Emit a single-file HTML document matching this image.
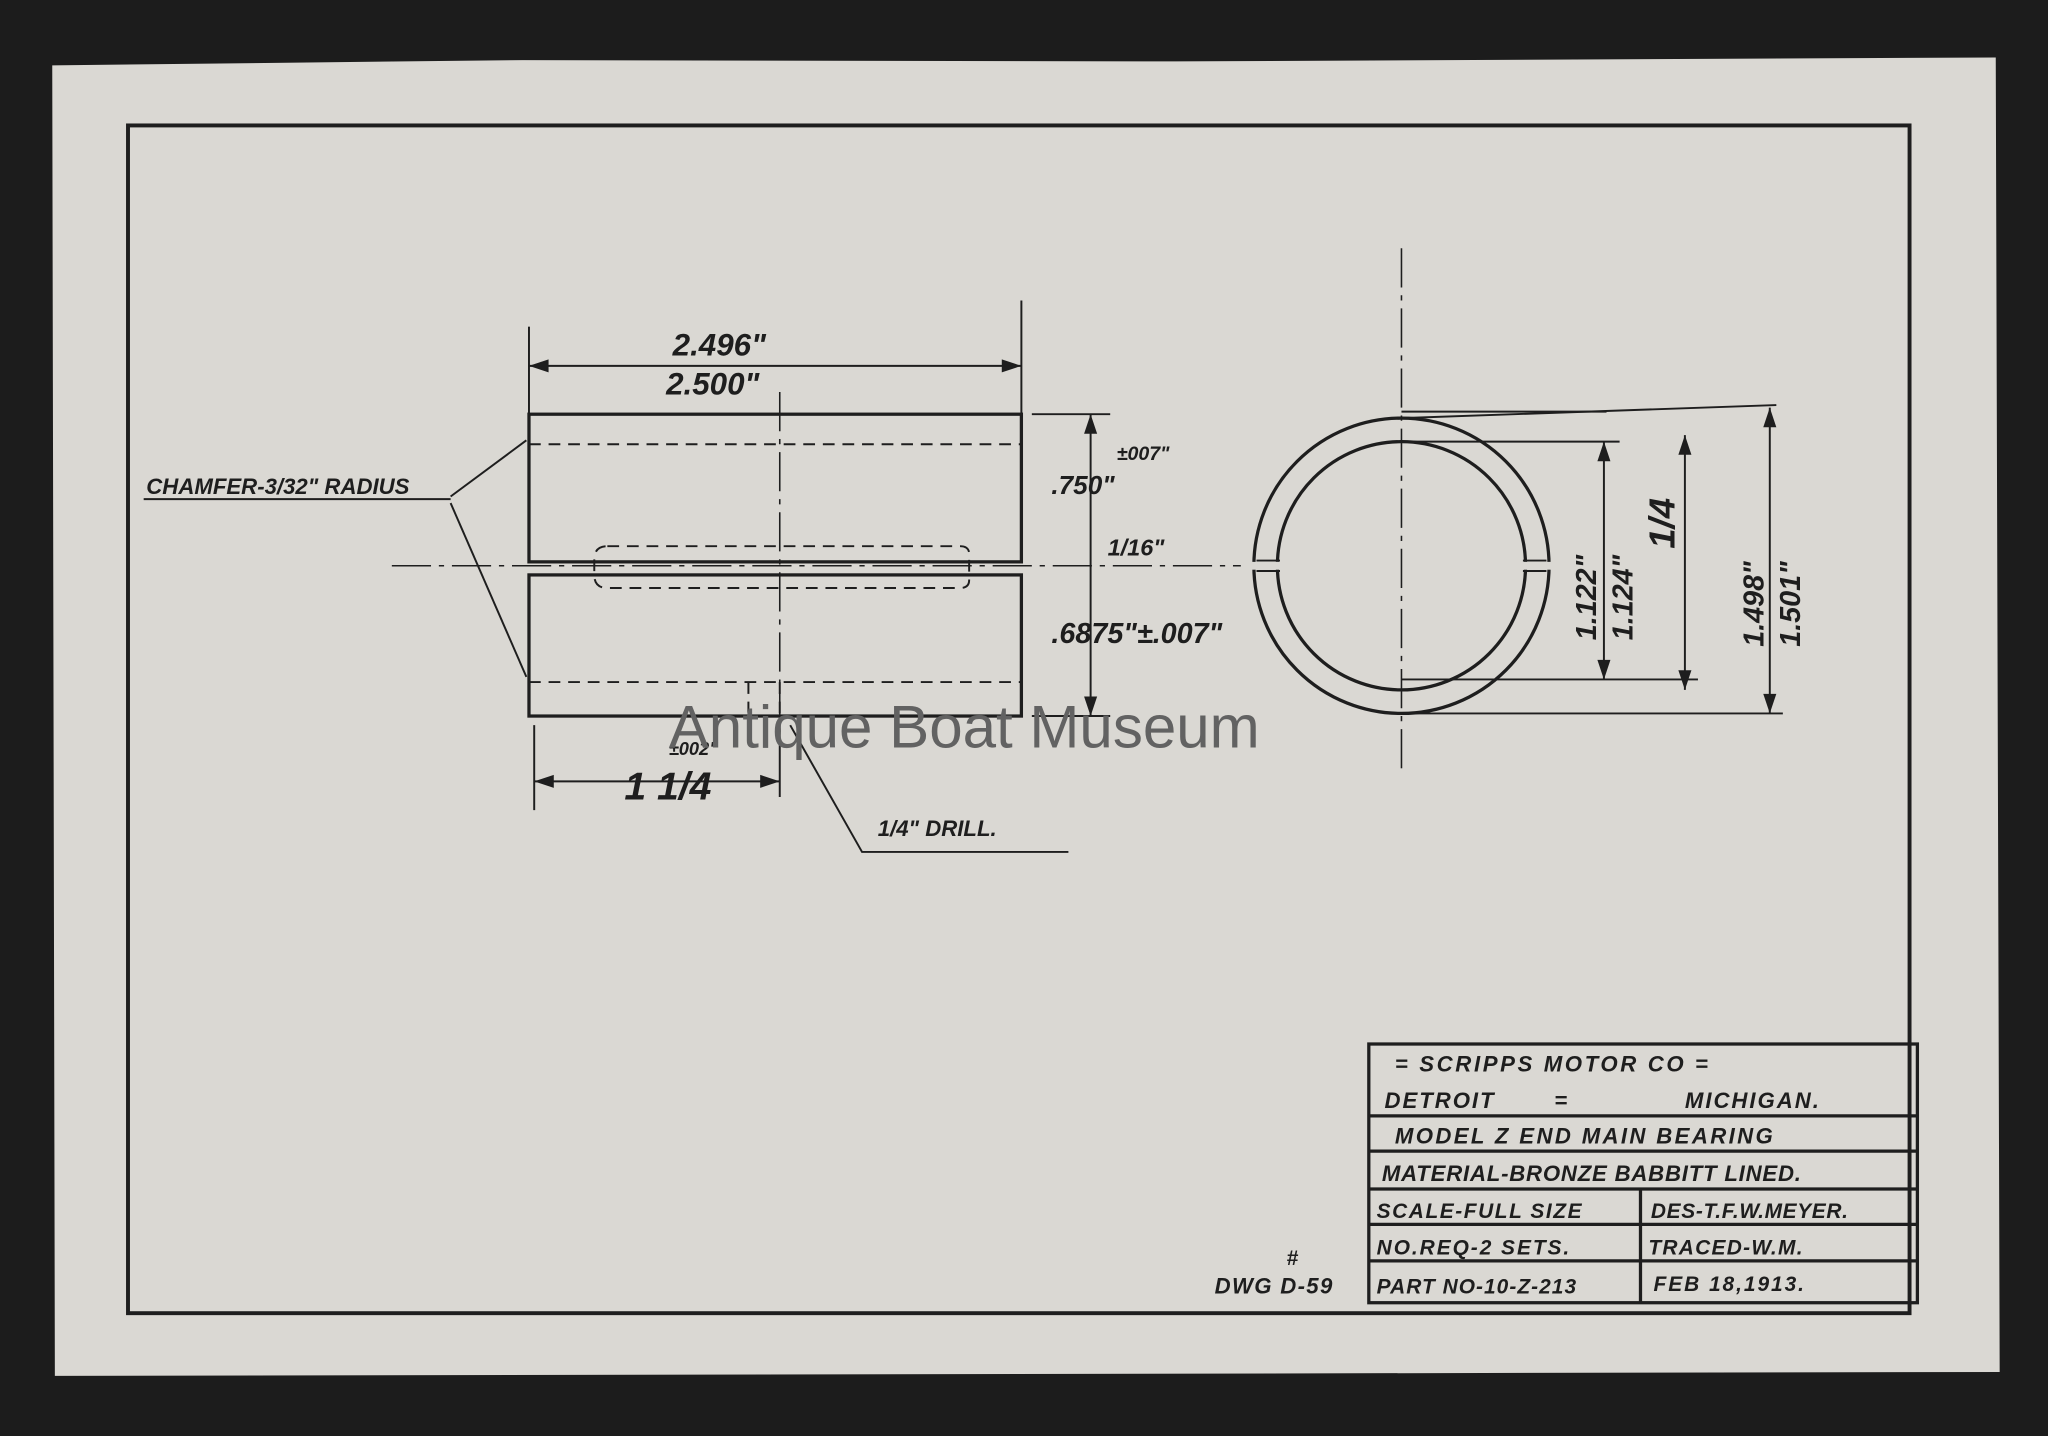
<!DOCTYPE html>
<html><head><meta charset="utf-8"><style>
html,body{margin:0;padding:0;background:#1c1c1c;}
svg{display:block;}
text{font-family:"Liberation Sans",sans-serif;font-style:italic;font-weight:bold;fill:#1e1e1e;}
</style></head><body>
<svg width="2048" height="1436" viewBox="0 0 1568 1099" preserveAspectRatio="none" xmlns="http://www.w3.org/2000/svg">
<rect x="0" y="0" width="1568" height="1099" fill="#1c1c1c"/>
<polygon points="40,50 400,46 900,47 1528,44 1531,1050 42,1053" fill="#dad8d3"/>
<g stroke="#1e1e1e" fill="none">
<rect x="98" y="96" width="1364" height="909" stroke-width="3"/>
<rect x="405" y="317" width="377" height="113" stroke-width="2.5"/>
<rect x="405" y="440" width="377" height="108" stroke-width="2.5"/>
<g stroke-dasharray="9,6" stroke-width="1.5">
<line x1="405" y1="340" x2="782" y2="340"/>
<line x1="405" y1="522" x2="782" y2="522"/>
<path d="M465,418 L735,418 Q742,418 742,424 L742,444 Q742,450 735,450 L465,450 Q455,450 455,440 L455,428 Q455,418 465,418"/>
<line x1="573" y1="522" x2="573" y2="548"/>
<line x1="597" y1="522" x2="597" y2="548"/>
</g>
<g stroke-dasharray="30,6,4,6" stroke-width="1.2">
<line x1="597" y1="300" x2="597" y2="565"/>
<line x1="300" y1="433" x2="950" y2="433"/>
<line x1="1073" y1="190" x2="1073" y2="590"/>
</g>
<g stroke-width="1.5">
<line x1="405" y1="250" x2="405" y2="317"/><line x1="782" y1="230" x2="782" y2="317"/>
<line x1="405" y1="280" x2="782" y2="280"/>
<line x1="790" y1="317" x2="850" y2="317"/><line x1="790" y1="548" x2="850" y2="548"/>
<line x1="835" y1="317" x2="835" y2="548"/>
<line x1="409" y1="555" x2="409" y2="620"/><line x1="597" y1="555" x2="597" y2="610"/>
<line x1="409" y1="598" x2="597" y2="598"/>
<line x1="345" y1="380" x2="403" y2="337"/><line x1="345" y1="385" x2="403" y2="518"/>
<polyline points="605,555 660,652 818,652"/>
<line x1="110" y1="382" x2="345" y2="382"/>
</g>
<circle cx="1073" cy="433" r="113" stroke-width="2.5"/>
<circle cx="1073" cy="433" r="95" stroke-width="2.5"/>
<g stroke-width="1.5">
<line x1="1073" y1="315" x2="1230" y2="315"/><line x1="1073" y1="320" x2="1360" y2="310"/>
<line x1="1073" y1="338" x2="1240" y2="338"/>
<line x1="1073" y1="520" x2="1300" y2="520"/><line x1="1073" y1="546" x2="1365" y2="546"/>
<line x1="1228" y1="338" x2="1228" y2="520"/>
<line x1="1290" y1="333" x2="1290" y2="528"/>
<line x1="1355" y1="312" x2="1355" y2="546"/>
</g>
</g>
<g fill="#dad8d3">
<rect x="956" y="430" width="26" height="6"/>
<rect x="1164" y="430" width="26" height="6"/>
</g>
<g stroke="#1e1e1e" stroke-width="1.5">
<line x1="962" y1="429" x2="980" y2="429"/><line x1="962" y1="437" x2="980" y2="437"/>
<line x1="1166" y1="429" x2="1184" y2="429"/><line x1="1166" y1="437" x2="1184" y2="437"/>
</g>
<g stroke="#1e1e1e" fill="none" stroke-width="2.5">
<rect x="1048" y="799" width="420" height="198"/>
<line x1="1048" y1="854" x2="1468" y2="854"/>
<line x1="1048" y1="881" x2="1468" y2="881"/>
<line x1="1048" y1="910" x2="1468" y2="910"/>
<line x1="1048" y1="937" x2="1468" y2="937"/>
<line x1="1048" y1="965" x2="1468" y2="965"/>
<line x1="1256" y1="910" x2="1256" y2="997"/>
</g>
<g fill="#1e1e1e">
<polygon points="405,280 420,275 420,285"/><polygon points="782,280 767,275 767,285"/>
<polygon points="409,598 424,593 424,603"/><polygon points="597,598 582,593 582,603"/>
<polygon points="835,317 830,332 840,332"/><polygon points="835,548 830,533 840,533"/>
<polygon points="1228,338 1223,353 1233,353"/><polygon points="1228,520 1223,505 1233,505"/>
<polygon points="1290,333 1285,348 1295,348"/><polygon points="1290,528 1285,513 1295,513"/>
<polygon points="1355,312 1350,327 1360,327"/><polygon points="1355,546 1350,531 1360,531"/>
</g>
<text x="515" y="272" font-size="24">2.496"</text>
<text x="510" y="302" font-size="24">2.500"</text>
<text x="112" y="378" font-size="17">CHAMFER-3/32" RADIUS</text>
<text x="805" y="378" font-size="20">.750"</text>
<text x="855" y="352" font-size="15">±007"</text>
<text x="848" y="425" font-size="18">1/16"</text>
<text x="805" y="492" font-size="22">.6875"±.007"</text>
<text x="478" y="612" font-size="30">1 1/4</text>
<text x="512" y="578" font-size="14">±002"</text>
<text x="672" y="640" font-size="17">1/4" DRILL.</text>
<text x="512" y="572" font-size="46" style="font-style:normal;font-weight:normal;fill:#626262">Antique Boat Museum</text>
<text transform="translate(1222,490) rotate(-90)" font-size="22">1.122"</text>
<text transform="translate(1250,490) rotate(-90)" font-size="22">1.124"</text>
<text transform="translate(1282,420) rotate(-90)" font-size="28">1/4</text>
<text transform="translate(1350,495) rotate(-90)" font-size="22">1.498"</text>
<text transform="translate(1378,495) rotate(-90)" font-size="22">1.501"</text>
<text x="930" y="990" font-size="17" letter-spacing="1">DWG D-59</text>
<text x="985" y="968" font-size="16">#</text>
<text x="1068" y="820" font-size="17" letter-spacing="2">= SCRIPPS MOTOR CO =</text>
<text x="1060" y="848" font-size="17" letter-spacing="1.5">DETROIT</text>
<text x="1190" y="848" font-size="17">=</text>
<text x="1290" y="848" font-size="17" letter-spacing="1.5">MICHIGAN.</text>
<text x="1068" y="875" font-size="17" letter-spacing="1.8">MODEL Z END MAIN BEARING</text>
<text x="1058" y="904" font-size="17" letter-spacing="0.6">MATERIAL-BRONZE BABBITT LINED.</text>
<text x="1054" y="932" font-size="16" letter-spacing="1.2">SCALE-FULL SIZE</text>
<text x="1264" y="932" font-size="16" letter-spacing="0.5">DES-T.F.W.MEYER.</text>
<text x="1054" y="960" font-size="16" letter-spacing="1.5">NO.REQ-2 SETS.</text>
<text x="1262" y="960" font-size="16" letter-spacing="1">TRACED-W.M.</text>
<text x="1054" y="990" font-size="16" letter-spacing="0.8">PART NO-10-Z-213</text>
<text x="1266" y="988" font-size="16" letter-spacing="1.5">FEB 18,1913.</text>
</svg>
</body></html>
